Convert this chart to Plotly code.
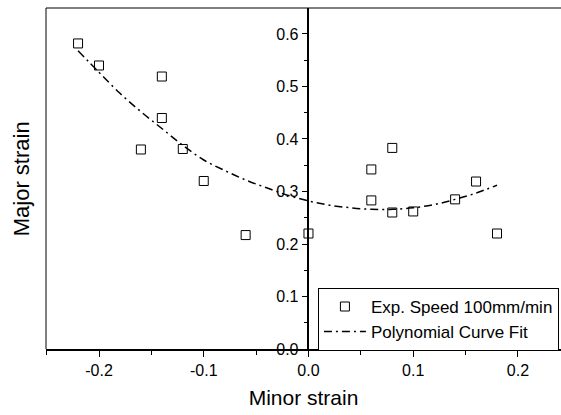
import plotly.graph_objects as go

minor_strain = [-0.22, -0.20, -0.14, -0.14, -0.16, -0.12, -0.10, -0.06, 0.00,
                0.06, 0.06, 0.08, 0.08, 0.10, 0.14, 0.16, 0.18]
major_strain = [0.582, 0.540, 0.519, 0.440, 0.380, 0.381, 0.320, 0.217, 0.220,
                0.342, 0.283, 0.383, 0.260, 0.262, 0.285, 0.319, 0.220]

# Polynomial curve fit
fit_x = [-0.22, -0.20, -0.18, -0.16, -0.14, -0.12, -0.10, -0.08, -0.06, -0.04, -0.02,
         0.00, 0.02, 0.04, 0.06, 0.08, 0.10, 0.12, 0.14, 0.16, 0.18]
fit_y = [0.568, 0.527, 0.487, 0.452, 0.420, 0.388, 0.360, 0.340, 0.322, 0.307, 0.293,
         0.282, 0.274, 0.269, 0.266, 0.266, 0.269, 0.275, 0.285, 0.297, 0.312]

x_tick_vals = [-0.2, -0.1, 0.0, 0.1, 0.2]
x_tick_text = ["-0.2", "-0.1", "0.0", "0.1", "0.2"]
y_tick_vals = [0.0, 0.1, 0.2, 0.3, 0.4, 0.5, 0.6]
y_tick_text = ["0.0", "0.1", "0.2", "0.3", "0.4", "0.5", "0.6"]

series_names = ["Exp. Speed 100mm/min", "Polynomial Curve Fit"]

FONT = "Liberation Sans, Arial, sans-serif"

fig = go.Figure()
fig.add_trace(go.Scatter(
    x=minor_strain, y=major_strain, mode="markers", name=series_names[0],
    marker=dict(symbol="square-open", size=9, color="black", line=dict(width=1, color="black")),
))
fig.add_trace(go.Scatter(
    x=fit_x, y=fit_y, mode="lines", name=series_names[1], line_shape="spline",
    line=dict(color="black", width=1.5, dash="8px,4px,2px,4px"),
))

x_range = [-0.2506, 0.2411]
y_range = [0.0, 0.6495]
ypos = (0 - x_range[0]) / (x_range[1] - x_range[0])

fig.update_layout(
    width=561, height=415,
    margin=dict(l=46, r=0, t=8, b=66),
    paper_bgcolor="white", plot_bgcolor="white",
    font=dict(family=FONT, size=16, color="black"),
    showlegend=True,
    legend=dict(
        x=0.528, y=0.179, xanchor="left", yanchor="top",
        bgcolor="white", bordercolor="black", borderwidth=1,
        font=dict(size=17, family=FONT), itemwidth=42, tracegroupgap=0,
    ),
    xaxis=dict(
        range=x_range, showgrid=False, zeroline=False,
        showline=True, linecolor="black", linewidth=1.5,
        ticks="outside", ticklen=6, tickwidth=1.2, tickcolor="black",
        tickvals=x_tick_vals, ticktext=x_tick_text,
        tickfont=dict(size=16, family=FONT),
        minor=dict(dtick=0.05, tick0=0, ticks="outside", ticklen=4, tickwidth=1.2, tickcolor="black"),
        title=dict(text="Minor strain", font=dict(size=21, family=FONT), standoff=12),
    ),
    yaxis=dict(
        range=y_range, showgrid=False, zeroline=False,
        anchor="free", position=ypos,
        showline=True, linecolor="black", linewidth=1.5,
        ticks="outside", ticklen=6, tickwidth=1.2, tickcolor="black",
        tickvals=y_tick_vals, ticktext=y_tick_text,
        tickfont=dict(size=16, family=FONT),
        minor=dict(dtick=0.05, tick0=0, ticks="outside", ticklen=4, tickwidth=1.2, tickcolor="black"),
    ),
    shapes=[
        dict(type="line", xref="paper", yref="paper", x0=0, x1=0, y0=0, y1=1,
             line=dict(color="black", width=1)),
        dict(type="line", xref="paper", yref="paper", x0=0, x1=1, y0=1, y1=1,
             line=dict(color="black", width=1.2)),
    ],
    annotations=[
        dict(text="Major strain", xref="paper", yref="paper", x=-0.047, y=0.50,
             xanchor="center", yanchor="middle", textangle=-90, showarrow=False,
             font=dict(size=22, family=FONT)),
    ],
)

fig.write_html("out.html")
